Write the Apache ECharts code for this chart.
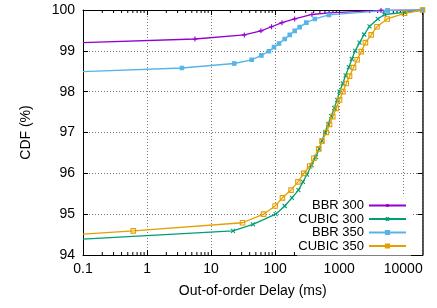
<!DOCTYPE html>
<html>
<head>
<meta charset="utf-8">
<script src="https://cdn.jsdelivr.net/npm/echarts@6/dist/echarts.min.js"></script>
<style>
  html, body { margin: 0; padding: 0; background: #fff; }
  #chart { width: 437px; height: 308px; }
</style>
</head>
<body>
<div id="chart"></div>
<script>
// values: delay (ms) and CDF (%)
const delayBbr300 = [0.1, 5.6, 33, 60, 88, 128, 202, 376, 700, 4500, 20000]
const cdfBbr300 = [99.2, 99.29, 99.39, 99.49, 99.59, 99.69, 99.78, 99.89, 99.93, 99.99, 100]

const delayCubic300 = [0.1, 22, 45, 102, 141, 183, 231, 272, 314, 370, 430, 490, 540, 600, 670, 750, 840, 930, 1010, 1140, 1260, 1417, 1578, 1780, 2080, 2450, 2980, 4010, 5090, 10500, 20000]
const cdfCubic300 = [94.39, 94.59, 94.75, 95.0, 95.2, 95.4, 95.59, 95.79, 95.97, 96.2, 96.4, 96.6, 96.8, 97.0, 97.2, 97.4, 97.6, 97.8, 98.0, 98.2, 98.4, 98.6, 98.8, 99.0, 99.2, 99.4, 99.6, 99.78, 99.89, 99.94, 100]

const delayBbr350 = [0.1, 3.5, 23, 43, 61, 80, 96, 115, 141, 169, 202, 242, 307, 417, 692, 5700, 20000]
const cdfBbr350 = [98.49, 98.58, 98.69, 98.78, 98.89, 98.99, 99.09, 99.18, 99.29, 99.39, 99.49, 99.58, 99.69, 99.78, 99.88, 99.99, 100]

const delayCubic350 = [0.1, 0.61, 31, 66, 100, 130, 177, 227, 280, 346, 403, 478, 539, 630, 708, 795, 900, 1014, 1143, 1290, 1452, 1675, 1907, 2210, 2570, 3160, 3890, 5620, 10500, 20000]
const cdfCubic350 = [94.51, 94.59, 94.79, 95.0, 95.2, 95.4, 95.59, 95.79, 96.0, 96.18, 96.37, 96.6, 96.79, 97.0, 97.2, 97.39, 97.59, 97.8, 98.0, 98.2, 98.38, 98.59, 98.78, 98.98, 99.2, 99.39, 99.59, 99.78, 99.92, 100]

const seriesNames = ['BBR 300', 'CUBIC 300', 'BBR 350', 'CUBIC 350']
const xMin = 0.1
const xMax = 20000
const yMin = 94
const yMax = 100

// minor ticks 2..9 of every decade (axis decoration only)
const minorTicks = []
for (let e = -1; e <= 4; e++) {
  for (let m = 2; m <= 9; m++) {
    const v = m * Math.pow(10, e)
    if (v < xMax) minorTicks.push([v])
  }
}

const FONT = 'Liberation Sans, Arial, sans-serif'
const PLUS = 'path://M0,5L10,5M5,0L5,10'
const CROSS = 'path://M0,0L10,10M10,0L0,10'

function pairs(xs, ys) {
  // first point sits on the left border, gnuplot draws no marker there
  return xs.map((x, i) => i === 0 ? { value: [x, ys[i]], symbol: 'none' } : [x, ys[i]])
}

function makeSeries(name, xs, ys, color, symbol, size, fill) {
  return {
    name: name,
    type: 'line',
    data: pairs(xs, ys),
    symbol: symbol,
    symbolSize: size,
    showAllSymbol: true,
    lineStyle: { color: color, width: 1.3 },
    itemStyle: { color: fill || 'transparent', borderColor: color, borderWidth: 1.1 },
    emphasis: { disabled: true },
    z: 3
  }
}

function decadeLabel(v) {
  const lg = Math.log10(v)
  if (Math.abs(lg - Math.round(lg)) > 1e-6) return ''
  return String(+Math.pow(10, Math.round(lg)).toPrecision(6))
}

const chart = echarts.init(document.getElementById('chart'), null, { renderer: 'canvas' })

chart.setOption({
  animation: false,
  textStyle: { fontFamily: FONT },
  grid: { left: 83, right: 14.5, top: 10, bottom: 53, show: false },
  legend: {
    data: seriesNames,
    orient: 'vertical',
    align: 'right',
    right: 26,
    top: 196,
    itemWidth: 37,
    itemHeight: 4,
    itemGap: 0.5,
    padding: [3, 4, 3, 1],
    backgroundColor: '#fff',
    textStyle: { fontSize: 13, color: '#000', fontFamily: FONT },
    selectedMode: false,
    z: 10
  },
  xAxis: [
    {
      type: 'log',
      logBase: 10,
      min: xMin,
      max: xMax,
      name: 'Out-of-order Delay (ms)',
      nameLocation: 'middle',
      nameGap: 29,
      nameTextStyle: { fontSize: 14, color: '#000', fontFamily: FONT },
      axisLine: { show: true, onZero: false, lineStyle: { color: '#000', width: 1 } },
      axisTick: { show: true, inside: true, length: 5, lineStyle: { color: '#000' } },
      axisLabel: { fontSize: 14, color: '#000', margin: 7, formatter: decadeLabel, showMaxLabel: false },
      splitLine: { show: true, lineStyle: { color: '#777', width: 1, type: [1, 2] } }
    },
    {
      type: 'log',
      logBase: 10,
      min: xMin,
      max: xMax,
      position: 'top',
      axisLine: { show: true, onZero: false, lineStyle: { color: '#000', width: 1 } },
      axisTick: { show: true, inside: true, length: 5, lineStyle: { color: '#000' } },
      axisLabel: { show: false },
      splitLine: { show: false }
    }
  ],
  yAxis: [
    {
      type: 'value',
      min: yMin,
      max: yMax,
      interval: 1,
      name: 'CDF (%)',
      nameLocation: 'middle',
      nameGap: 50,
      nameTextStyle: { fontSize: 14, color: '#000', fontFamily: FONT },
      axisLine: { show: true, onZero: false, lineStyle: { color: '#000', width: 1 } },
      axisTick: { show: true, inside: true, length: 5, lineStyle: { color: '#000' } },
      axisLabel: { fontSize: 14, color: '#000', margin: 8 },
      splitLine: { show: true, lineStyle: { color: '#777', width: 1, type: [1, 2] } }
    },
    {
      type: 'value',
      min: yMin,
      max: yMax,
      interval: 1,
      position: 'right',
      axisLine: { show: true, onZero: false, lineStyle: { color: '#222', width: 1.5 } },
      axisTick: { show: true, inside: true, length: 5, lineStyle: { color: '#000' } },
      axisLabel: { show: false },
      splitLine: { show: false }
    }
  ],
  series: [
    makeSeries('BBR 300', delayBbr300, cdfBbr300, '#9400d3', PLUS, 5),
    makeSeries('CUBIC 300', delayCubic300, cdfCubic300, '#009e73', CROSS, 4),
    makeSeries('BBR 350', delayBbr350, cdfBbr350, '#56b4e9', 'rect', 3.5, '#56b4e9'),
    makeSeries('CUBIC 350', delayCubic350, cdfCubic350, '#e69f00', 'rect', 4.5),
    {
      name: 'minor',
      type: 'custom',
      data: minorTicks,
      silent: true,
      z: 2,
      renderItem: function (params, api) {
        const bottom = api.coord([api.value(0), yMin])
        const top = api.coord([api.value(0), yMax])
        return {
          type: 'group',
          children: [
            { type: 'line', shape: { x1: bottom[0], y1: bottom[1], x2: bottom[0], y2: bottom[1] - 3 }, style: { stroke: '#000', lineWidth: 1 } },
            { type: 'line', shape: { x1: top[0], y1: top[1], x2: top[0], y2: top[1] + 3 }, style: { stroke: '#000', lineWidth: 1 } }
          ]
        }
      }
    }
  ]
})
</script>
</body>
</html>
